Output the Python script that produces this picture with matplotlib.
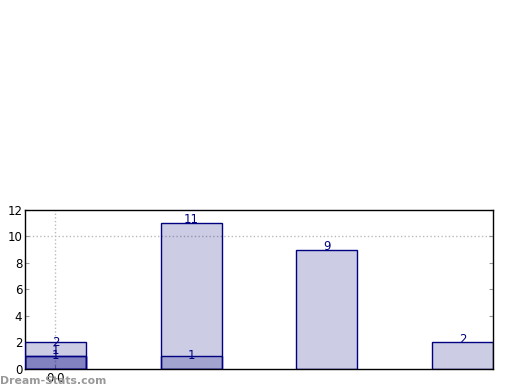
import matplotlib
matplotlib.use('Agg')
import matplotlib.pyplot as plt
import numpy as np

positions = [0, 1, 2, 3]
totals = [2, 11, 9, 2]
subset_a = [1, 1, 0, 0]
subset_b = [1, 0, 0, 0]

navy = '#000080'
width = 0.45

fig = plt.figure(figsize=(5.2, 3.9), dpi=100)
ax = fig.add_axes([0.048, 0.054, 0.900, 0.408])

ax.bar(positions, totals, width, color=navy, alpha=0.2, edgecolor='none', zorder=2)
ax.bar(positions, totals, width, color='none', edgecolor=navy, linewidth=1, zorder=3)
for vals in (subset_a, subset_b):
    idx = [i for i, v in enumerate(vals) if v > 0]
    ax.bar([positions[i] for i in idx], [vals[i] for i in idx], width,
           color=navy, alpha=0.2, edgecolor='none', zorder=2)
    ax.bar([positions[i] for i in idx], [vals[i] for i in idx], width,
           color='none', edgecolor=navy, linewidth=1, zorder=3)

for x, v in zip(positions, totals):
    if x == 0:
        ax.text(x, v, str(v), ha='center', va='center', color=navy, fontsize=8.5, zorder=4)
    else:
        ax.text(x, v - 0.25, str(v), ha='center', va='bottom', color=navy, fontsize=8.5, zorder=4)
for x, v in zip(positions, subset_a):
    if v:
        ax.text(x, v + (0.4 if x == 0 else 0), str(v), ha='center', va='center',
                color=navy, fontsize=8.5, zorder=4)
for x, v in zip(positions, subset_b):
    if v:
        ax.text(x, v, str(v), ha='center', va='center', color=navy, fontsize=8.5, zorder=4)

ax.axhline(10, color='#bbbbbb', linestyle=':', linewidth=1, zorder=1)
ax.axvline(0, color='#bbbbbb', linestyle=':', linewidth=1, zorder=1)

ax.set_xlim(-width / 2, 3 + width / 2)
ax.set_ylim(0, 12)
ax.set_yticks(np.arange(0, 13, 2))
ax.set_xticks([0])
ax.set_xticklabels(['0.0'])
ax.tick_params(direction='in', length=3, color='#999999', labelsize=8.5, pad=2,
               right=True)
for s in ax.spines.values():
    s.set_linewidth(1)

fig.text(0.0, 0.01, 'Dream-Stats.com', color='#999999', fontsize=7.8,
         fontweight='bold', ha='left', va='bottom')

fig.savefig('out.png', dpi=100)
